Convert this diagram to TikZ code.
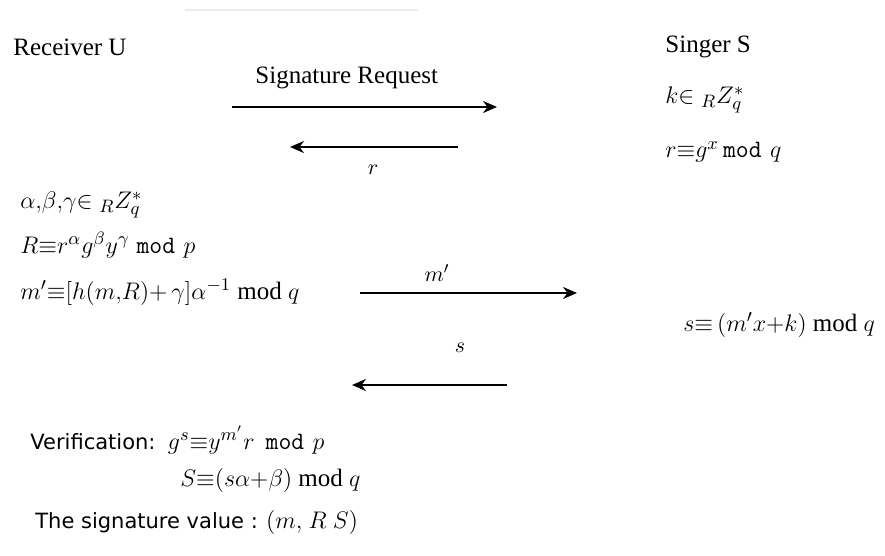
\documentclass[tikz,border=0pt]{standalone}
\usepackage{amsmath, amssymb}
\usepackage{fontspec}
\setmainfont{Liberation Serif}
\setsansfont{DejaVu Sans}
\usepackage{tikz}
\usetikzlibrary{arrows, arrows.meta, positioning}

\begin{document}
\begin{tikzpicture}[x=0.5pt,y=-0.5pt]

\tikzset{txt/.style = {anchor=west,inner sep=0pt,font=\fontsize{12.5}{14}\selectfont}}
\tikzset{msg/.style = {->,> = {Stealth[length=7pt,width=6pt]},line width=1pt}}
\tikzset{lbl/.style = {inner sep=0pt,font=\fontsize{11}{13}\selectfont}}
\tikzset{sans/.style = {font=\sffamily\fontsize{10.5}{13}\selectfont}}
\useasboundingbox (0,0) rectangle (885,556);

% faint rule on top
\draw[black!8,line width=0.6pt] (185,10) -- (418,10);

% parties
\node[txt] (recv) at (13,47) {Receiver U};
\node[txt] (sign) at (665,47) {Singer S};

% signer side
\node[txt] (kpick) at (665,100) {$k{\in}\;{}_{R}Z_{q}^{*}$};
\node[txt] (rval) at (665,152) {$r{\equiv}g^{x}$\,\texttt{mod}\,\,$q$};
\node[txt] (sval) at (683,325) {$s{\equiv}\,(m'x{+}k)$ mod $q$};

% receiver side
\node[txt] (blind) at (20,205) {$\alpha{,}\beta{,}\gamma{\in}\;{}_{R}Z_{q}^{*}$};
\node[txt] (Rval) at (20,245) {$R{\equiv}r^{\alpha}g^{\beta}y^{\gamma}$\;\texttt{mod}\,\,$p$};
\node[txt] (mval) at (20,292) {$m'{\equiv}[h(m{,}R){+}\,\gamma]\alpha^{-1}$ mod $q$};
\node[txt] (verif) at (30,440) {{\sffamily\fontsize{10.5}{13}\selectfont Verification:}\ \ $g^{s}{\equiv}y^{m'}r$\;\,\texttt{mod}\,\,$p$};
\node[txt] (Sval) at (180,481) {$S{\equiv}(s\alpha{+}\beta)$ mod $q$};
\node[txt] (result) at (35,522) {{\sffamily\fontsize{10.5}{13}\selectfont The signature value :} $(m{,}\ R\ S)$};

% message ends
\coordinate (req0) at (232,107);
\coordinate (req1) at (497,107);
\coordinate (r0) at (458,147);
\coordinate (r1) at (290,147);
\coordinate (m0) at (360,293);
\coordinate (m1) at (577,293);
\coordinate (s0) at (507,385);
\coordinate (s1) at (352,385);

% messages
\path[msg] (req0) edge (req1);
\path[msg] (r0) edge (r1);
\path[msg] (m0) edge (m1);
\path[msg] (s0) edge (s1);

% message labels
\node[txt] (reqlbl) at (255,78) {Signature Request};
\node[lbl] (rlbl) at (373,170) {$r$};
\node[lbl] (mlbl) at (437,273) {$m'$};
\node[lbl] (slbl) at (460,348) {$s$};

\end{tikzpicture}
\end{document}
